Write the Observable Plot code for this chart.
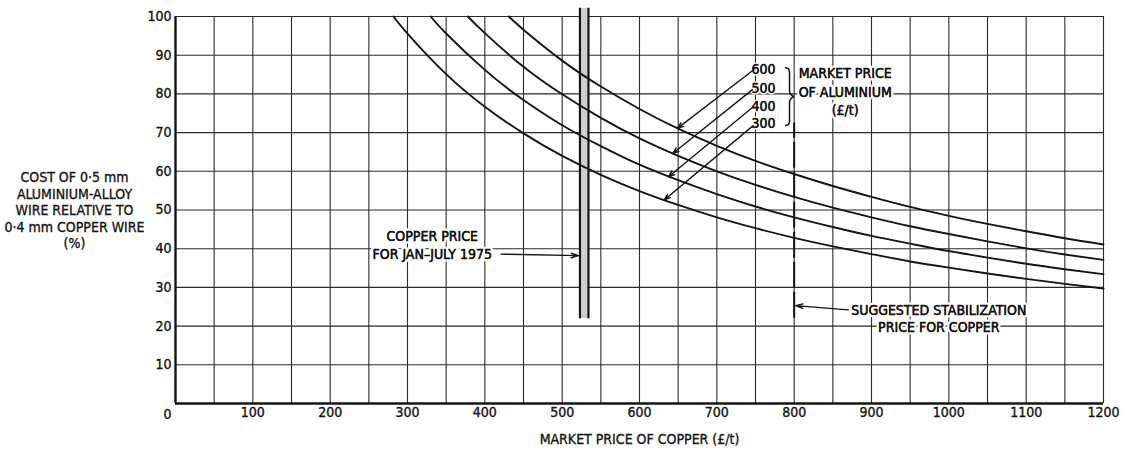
<!DOCTYPE html>
<html>
<head>
<meta charset="utf-8">
<script src="https://cdn.jsdelivr.net/npm/d3@7"></script>
<script src="https://cdn.jsdelivr.net/npm/@observablehq/plot@0.6"></script>
<style>
  html, body { margin: 0; padding: 0; background: #fff; }
  #chart { width: 1126px; height: 456px; }
  g[aria-label="x-axis tick label"], g[aria-label="y-axis tick label"] { stroke: #151515; stroke-width: 0.35px; }
</style>
</head>
<body>
<div id="chart"></div>
<script>
// ---- Data ----
// Market price of aluminium (£/t) for each curve
const alPrices = [300, 400, 500, 600];

// Market price of copper (£/t) and relative cost (%) along each curve
const curve300X = [282, 300, 350, 400, 450, 500, 550, 600, 650, 700, 750, 800, 850, 900, 950, 1000, 1050, 1100, 1150, 1200];
const curve300Y = [100, 95.6, 85.1, 76.7, 69.8, 64.0, 59.1, 54.9, 51.3, 48.1, 45.3, 42.8, 40.6, 38.6, 36.7, 35.1, 33.6, 32.2, 30.9, 29.7];

const curve400X = [330, 350, 400, 450, 500, 550, 600, 650, 700, 750, 800, 850, 900, 950, 1000, 1050, 1100, 1150, 1200];
const curve400Y = [100, 95.6, 86.2, 78.4, 71.9, 66.5, 61.7, 57.7, 54.1, 50.9, 48.1, 45.6, 43.3, 41.3, 39.4, 37.7, 36.1, 34.7, 33.4];

const curve500X = [378, 400, 450, 500, 550, 600, 650, 700, 750, 800, 850, 900, 950, 1000, 1050, 1100, 1150, 1200];
const curve500Y = [100, 95.7, 87.0, 79.9, 73.8, 68.5, 64.0, 60.0, 56.5, 53.4, 50.6, 48.1, 45.8, 43.8, 41.9, 40.1, 38.5, 37.1];

const curve600X = [431, 450, 500, 550, 600, 650, 700, 750, 800, 850, 900, 950, 1000, 1050, 1100, 1150, 1200];
const curve600Y = [100, 96.6, 88.6, 81.9, 76.1, 71.0, 66.6, 62.7, 59.3, 56.2, 53.4, 50.8, 48.5, 46.4, 44.5, 42.7, 41.1];

// Copper price range for Jan–July 1975 (£/t) and suggested stabilization price
const copperRange1975 = [523, 534];
const stabilizationPrice = 800;

// Tick labels
const xTicks = [100, 200, 300, 400, 500, 600, 700, 800, 900, 1000, 1100, 1200];
const yTicks = [10, 20, 30, 40, 50, 60, 70, 80, 90, 100];
const xGrid = [50, 100, 150, 200, 250, 300, 350, 400, 450, 500, 550, 600, 650, 700, 750, 800, 850, 900, 950, 1000, 1050, 1100, 1150, 1200];
const yGrid = [10, 20, 30, 40, 50, 60, 70, 80, 90, 100];

// Texts
const xTitle = "MARKET PRICE OF COPPER (£/t)";
const yTitle = "COST OF 0·5 mm\nALUMINIUM-ALLOY\nWIRE RELATIVE TO\n0·4 mm COPPER WIRE\n(%)";
const copperLabel = ["COPPER PRICE", "FOR JAN–JULY 1975"];
const stabLabel = ["SUGGESTED STABILIZATION", "PRICE FOR COPPER"];
const alLabel = ["MARKET PRICE", "OF ALUMINIUM", "(£/t)"];

// ---- Build tables ----
const curvesXY = [[curve300X, curve300Y], [curve400X, curve400Y], [curve500X, curve500Y], [curve600X, curve600Y]];
const curveData = curvesXY.flatMap(([xs, ys], i) => xs.map((x, j) => ({al: alPrices[i], cu: x, rel: ys[j]})));

const ink = "#151515";
const halo = {stroke: "white", strokeWidth: 5, fill: ink};
const heavy = {stroke: ink, strokeWidth: 0.35, fill: ink};

// legend label positions (annotation layout)
const legendY = [72.4, 76.7, 81.4, 86.3];       // for 300, 400, 500, 600
const arrowFrom = [[747, 71.8], [746, 76.5], [746, 81.1], [746, 86.0]];
const arrowTo = [[632, 52.6], [637.5, 58.6], [643, 64.6], [649, 71.1]];

const legendText = alPrices.map((p, i) => ({x: 776, y: legendY[i], t: String(p)}));
const legendArrows = alPrices.map((p, i) => ({x1: arrowFrom[i][0], y1: arrowFrom[i][1], x2: arrowTo[i][0], y2: arrowTo[i][1]}));

const brace = [[788.8, 86.8], [792.7, 86.5], [794.0, 85.7], [794.0, 80.6], [795.3, 79.9], [799.2, 79.3], [795.3, 78.7], [794.0, 78.0], [794.0, 72.9], [792.7, 72.1], [788.8, 71.8]].map(([x, y]) => ({x, y}));

const annotations = [
  {x: 332, y: 43.1, t: copperLabel[0]},
  {x: 332, y: 38.6, t: copperLabel[1]},
  {x: 987, y: 24.0, t: stabLabel[0]},
  {x: 987, y: 19.6, t: stabLabel[1]},
  {x: 866, y: 85.3, t: alLabel[0]},
  {x: 866, y: 80.4, t: alLabel[1]},
  {x: 866, y: 75.7, t: alLabel[2]}
];

const chart = Plot.plot({
  width: 1126,
  height: 456,
  marginLeft: 175,
  marginRight: 23,
  marginTop: 16,
  marginBottom: 53,
  style: {fontFamily: "'Liberation Sans Narrow', 'DejaVu Sans Condensed', sans-serif", fontSize: "14px", color: ink, background: "white"},
  x: {domain: [0, 1200]},
  y: {domain: [0, 100]},
  marks: [
    // grid
    Plot.ruleX(xGrid, {stroke: "#2a2a2a", strokeWidth: 1.1}),
    Plot.ruleY(yGrid, {stroke: "#2a2a2a", strokeWidth: 1.1}),
    // frame left and bottom
    Plot.ruleX([0], {stroke: ink, strokeWidth: 2.4}),
    Plot.ruleY([0], {stroke: ink, strokeWidth: 2.4}),
    // copper price band 1975
    Plot.rect([copperRange1975], {x1: d => d[0], x2: d => d[1], y1: 21.9, y2: 102.1, fill: "#cfcfcf"}),
    Plot.ruleX(copperRange1975, {y1: 21.9, y2: 102.1, stroke: ink, strokeWidth: 2.2}),
    // curves
    Plot.line(curveData, {x: "cu", y: "rel", z: "al", curve: "natural", stroke: ink, strokeWidth: 1.9}),
    // stabilization dashed line
    Plot.ruleX([stabilizationPrice], {y1: 22, y2: 72.5, stroke: ink, strokeWidth: 2, strokeDasharray: "26,4"}),
    // annotation texts with white halo, then a slightly heavier ink layer
    Plot.text(annotations, {x: "x", y: "y", text: "t", ...halo}),
    Plot.text(annotations, {x: "x", y: "y", text: "t", ...heavy}),
    Plot.text(legendText, {x: "x", y: "y", text: "t", textAnchor: "end", ...halo, strokeWidth: 3}),
    Plot.text(legendText, {x: "x", y: "y", text: "t", textAnchor: "end", ...heavy}),
    // brace
    Plot.line(brace, {x: "x", y: "y", stroke: ink, strokeWidth: 1.5}),
    // arrows
    Plot.arrow(legendArrows, {x1: "x1", y1: "y1", x2: "x2", y2: "y2", stroke: ink, strokeWidth: 1.4, headLength: 7, headAngle: 40}),
    Plot.arrow([{x1: 421, y1: 38.6, x2: 521, y2: 38.2}], {x1: "x1", y1: "y1", x2: "x2", y2: "y2", stroke: ink, strokeWidth: 1.4, headLength: 8, headAngle: 35}),
    Plot.arrow([{x1: 870, y1: 24.2, x2: 802, y2: 25.3}], {x1: "x1", y1: "y1", x2: "x2", y2: "y2", stroke: ink, strokeWidth: 1.4, headLength: 8, headAngle: 35}),
    // axes
    Plot.axisX({ticks: xTicks, tickFormat: d => String(d), tickSize: 0, tickPadding: 4, label: null}),
    Plot.axisY({ticks: yTicks, tickFormat: d => String(d), tickSize: 0, tickPadding: 4, label: null}),
    Plot.text([{x: 0, y: 0, t: "0"}], {x: "x", y: "y", text: "t", dx: -8, dy: 11, ...heavy}),
    // axis titles
    Plot.text([xTitle], {frameAnchor: "bottom", dy: 40, text: d => d, ...heavy}),
    Plot.text([{y: 50, t: yTitle}], {frameAnchor: "left", y: "y", text: "t", textAnchor: "middle", dx: -101, lineHeight: 1.18, ...heavy})
  ]
});

document.getElementById("chart").appendChild(chart);
</script>
</body>
</html>
